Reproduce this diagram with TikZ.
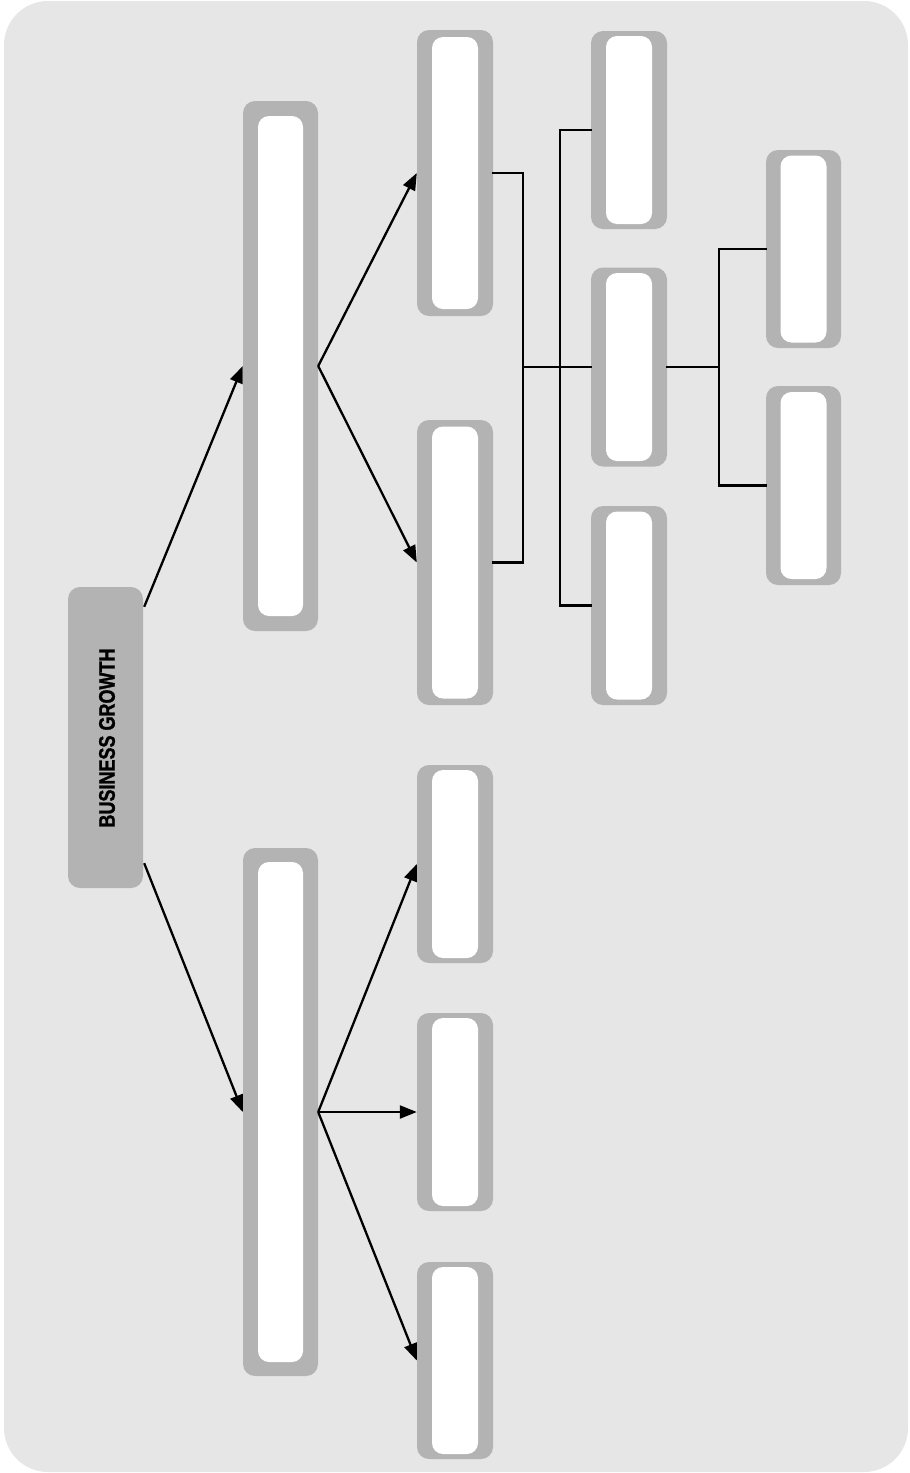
\documentclass[tikz,border=0pt]{standalone}
\usepackage{fontspec}
\newfontfamily\condfont[FakeStretch=0.80,FakeBold=1.2]{Liberation Sans Bold}
\usetikzlibrary{arrows.meta,calc}
\definecolor{bgc}{HTML}{E6E6E6}
\definecolor{boxc}{HTML}{B3B3B3}
\begin{document}
\begin{tikzpicture}[x=1pt,y=-1pt,
  outerbox/.style={fill=boxc, draw=none, rounded corners=12pt, inner sep=0pt},
  innerbox/.style={fill=white, draw=none, rounded corners=11pt, inner sep=0pt},
  conn/.style={line width=2.3pt, black},
  arr/.style={conn, -{Triangle[length=17pt,width=13pt]}},
  elbow/.style={conn, line cap=rect}
]
\useasboundingbox (0,0) rectangle (910,1473);
\fill[bgc, rounded corners=44pt] (4,1) rectangle (908,1472);

% root
\node[outerbox, minimum width=75pt, minimum height=301pt] (root) at (105.5,737.5) {};
\node[rotate=90, inner sep=0pt] (roottext) at (107,738) {\condfont\fontsize{22.5pt}{22.5pt}\selectfont BUSINESS GROWTH};

% level 1
\node[outerbox, minimum width=75pt, minimum height=530pt] (A1) at (280.5,366) {};
\node[innerbox, minimum width=45pt, minimum height=500pt] (A1i) at (280.5,366) {};
\node[outerbox, minimum width=75pt, minimum height=528pt] (A2) at (280.5,1112) {};
\node[innerbox, minimum width=45pt, minimum height=500pt] (A2i) at (280.5,1112) {};

% level 2
\node[outerbox, minimum width=76pt, minimum height=286pt] (B1) at (455,173) {};
\node[innerbox, minimum width=46pt, minimum height=272pt] (B1i) at (455,173) {};
\node[outerbox, minimum width=76pt, minimum height=285pt] (B2) at (455,562.5) {};
\node[innerbox, minimum width=46pt, minimum height=272pt] (B2i) at (455,562.5) {};
\node[outerbox, minimum width=76pt, minimum height=198pt] (C1) at (455,864) {};
\node[innerbox, minimum width=46pt, minimum height=188pt] (C1i) at (455,864) {};
\node[outerbox, minimum width=76pt, minimum height=198pt] (C2) at (455,1112) {};
\node[innerbox, minimum width=46pt, minimum height=188pt] (C2i) at (455,1112) {};
\node[outerbox, minimum width=76pt, minimum height=197pt] (C3) at (455,1360.5) {};
\node[innerbox, minimum width=46pt, minimum height=187pt] (C3i) at (455,1360.5) {};

% level 3
\node[outerbox, minimum width=76pt, minimum height=198pt] (D1) at (629,130) {};
\node[innerbox, minimum width=46pt, minimum height=188pt] (D1i) at (629,130) {};
\node[outerbox, minimum width=76pt, minimum height=199pt] (D2) at (629,367) {};
\node[innerbox, minimum width=46pt, minimum height=188pt] (D2i) at (629,367) {};
\node[outerbox, minimum width=76pt, minimum height=199pt] (D3) at (629,605.5) {};
\node[innerbox, minimum width=46pt, minimum height=188pt] (D3i) at (629,605.5) {};

% level 4
\node[outerbox, minimum width=75pt, minimum height=198pt] (E1) at (803.5,249) {};
\node[innerbox, minimum width=46pt, minimum height=187pt] (E1i) at (803.5,249) {};
\node[outerbox, minimum width=75pt, minimum height=199pt] (E2) at (803.5,485.5) {};
\node[innerbox, minimum width=46pt, minimum height=187pt] (E2i) at (803.5,485.5) {};

% junction coordinates
\coordinate (j1) at (523,367);
\coordinate (j2) at (560,367);
\coordinate (j3) at (719,367);

% arrows
\draw[arr] ($(root.north east)+(1,20)$) -- (A1.west);
\draw[arr] ($(root.south east)+(1,-25)$) -- (A2.west);
\draw[arr] (A1.east) -- (B1.west);
\draw[arr] (A1.east) -- (B2.west);
\draw[arr] (A2.east) -- (C1.west);
\draw[arr] (A2.east) -- (C2.west);
\draw[arr] (A2.east) -- (C3.west);

% elbow connectors
\draw[elbow] (B1.east) -| (j1) |- (B2.east);
\draw[elbow] (j1) -- (D2.west);
\draw[elbow] (D1.west) -| (j2) |- (D3.west);
\draw[elbow] (D2.east) -- (j3);
\draw[elbow] (E1.west) -| (j3) |- (E2.west);
\end{tikzpicture}
\end{document}
